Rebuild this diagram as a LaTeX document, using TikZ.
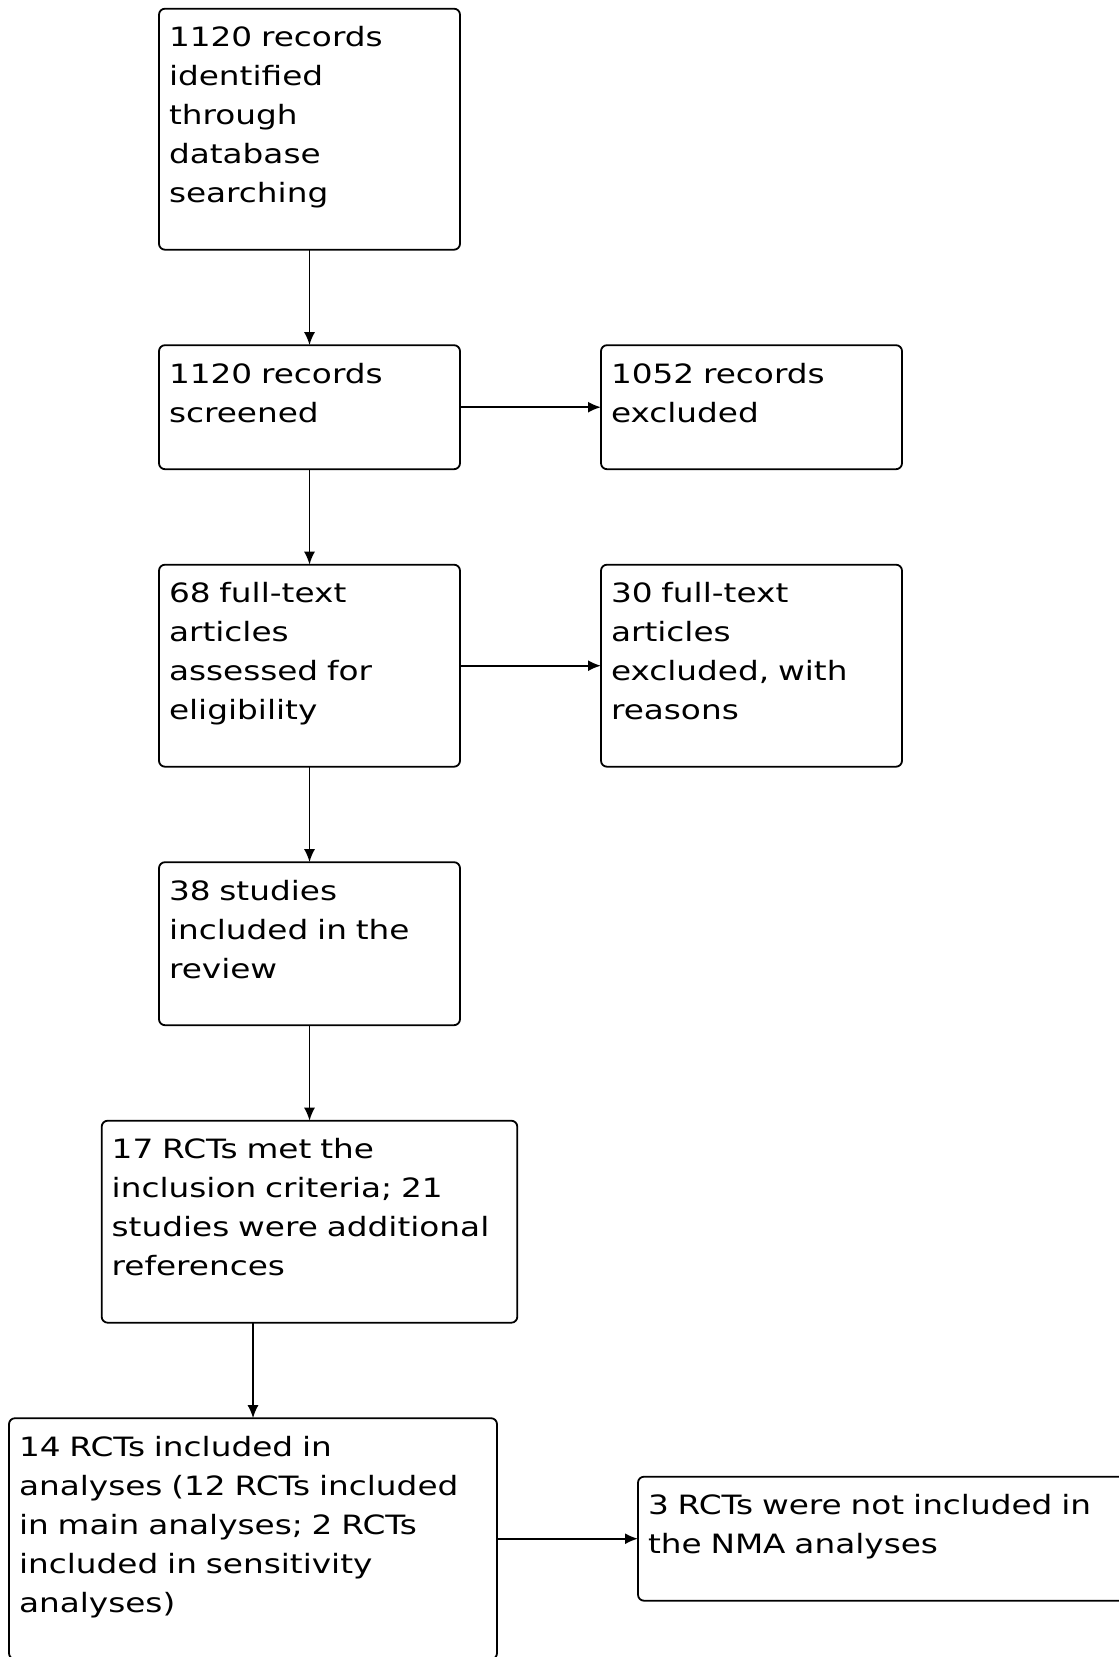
\documentclass[tikz,border=0pt]{standalone}
\usepackage{fontspec}
\setmainfont{DejaVu Sans}[FakeStretch=1.23]
\usetikzlibrary{shapes,arrows.meta,positioning}

\begin{document}
\begin{tikzpicture}[x=0.5pt,y=-0.5pt]
\tikzset{
block/.style={rectangle,rounded corners=3pt,draw=black,line width=0.9pt,
inner xsep=5pt, inner ysep=0pt, outer sep=0pt, text width=140.5pt, align=left,
text height=19pt, text depth=#1, font=\fontsize{13.3pt}{19.5pt}\selectfont},
block/.default=43pt,
myarrow/.style={-{Latex[length=6.5pt,width=5.5pt]}, line width=0.9pt},
}
\useasboundingbox (0,0) rectangle (1118,1657);

\node [block=101.5pt, anchor=north] (records) at (309.5,8.7) {1120 records\\identified\\through\\database\\searching};
\node [block, below=47.75pt of records] (screened) {1120 records\\screened};
\node [block, right=70.5pt of screened] (excluded) {1052 records\\excluded};
\node [block=82pt, below=47.75pt of screened] (fulltext) {68 full-text\\articles\\assessed for\\eligibility};
\node [block=82pt, right=70.5pt of fulltext] (fulltextexcl) {30 full-text\\articles\\excluded, with\\reasons};
\node [block=62.5pt, below=47.75pt of fulltext] (review) {38 studies\\included in the\\review};
\node [block=82pt, text width=197.8pt, below=47.75pt of review] (rcts) {17 RCTs met the\\inclusion criteria; 21\\studies were additional\\references};
\node [block=101.5pt, text width=234pt, below=47.75pt of rcts, xshift=-28.25pt] (analyses) {14 RCTs included in\\analyses (12 RCTs included\\in main analyses; 2 RCTs\\included in sensitivity\\analyses)};
\node [block, text width=237.5pt, right=70.5pt of analyses] (notnma) {3 RCTs were not included in\\the NMA analyses};

\draw[myarrow] (records) -- (screened);
\draw[myarrow] (screened) -- (fulltext);
\draw[myarrow] (fulltext) -- (review);
\draw[myarrow] (review) -- (rcts);
\draw[myarrow] (rcts.south -| analyses.north) -- (analyses.north);
\draw[myarrow] (screened.east) -- (excluded.west);
\draw[myarrow] (fulltext.east) -- (fulltextexcl.west);
\draw[myarrow] (analyses.east) -- (notnma.west);
\end{tikzpicture}
\end{document}
